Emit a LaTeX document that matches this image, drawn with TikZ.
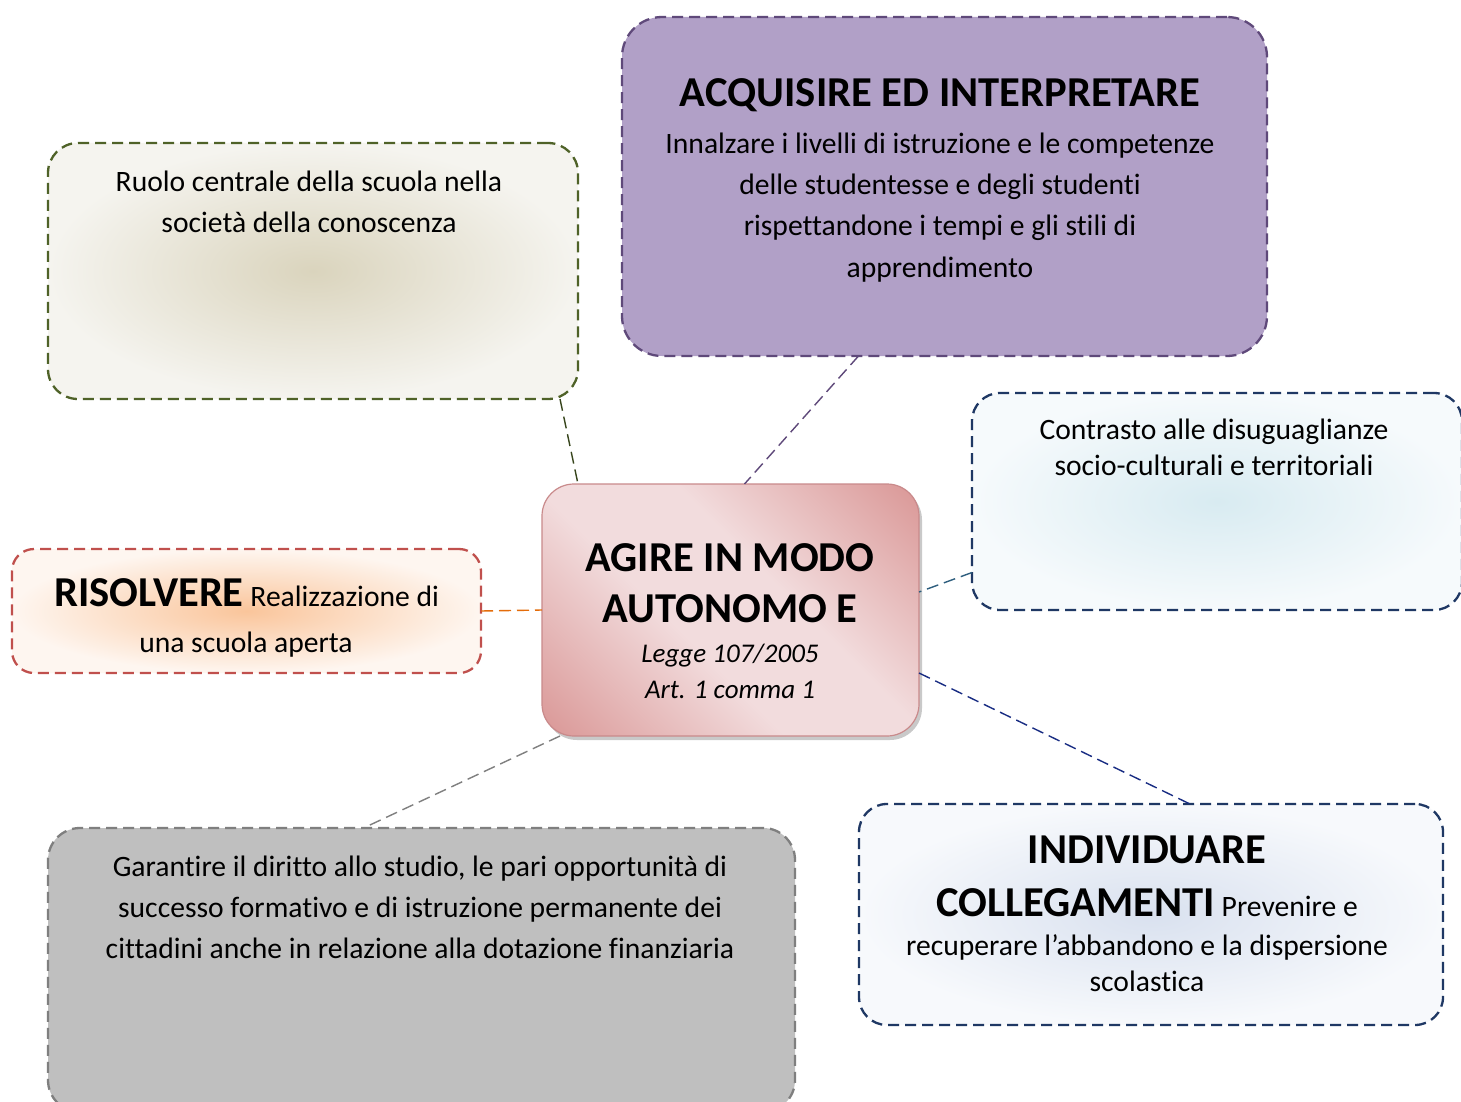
\documentclass[tikz,border=0pt]{standalone}
\usepackage{fontspec}
\setmainfont{Carlito}[Ligatures=NoCommon]
\usetikzlibrary{shadows,calc}
\definecolor{olivebd}{HTML}{4F6228}
\definecolor{tlout}{HTML}{F5F4EF}
\definecolor{tlin}{HTML}{DAD4BD}
\definecolor{purfill}{HTML}{B1A0C7}
\definecolor{purbd}{HTML}{5F497A}
\definecolor{navybd}{HTML}{1F3864}
\definecolor{conout}{HTML}{F6FAFC}
\definecolor{conin}{HTML}{D8EBF1}
\definecolor{redbd}{HTML}{C0504D}
\definecolor{risout}{HTML}{FEF6F0}
\definecolor{risin}{HTML}{FAC59B}
\definecolor{pkdark}{HTML}{D99594}
\definecolor{pklight}{HTML}{F2DCDD}
\definecolor{cenbd}{HTML}{C98A8B}
\definecolor{indout}{HTML}{F7F9FC}
\definecolor{indin}{HTML}{D9E1EF}
\definecolor{grayfill}{HTML}{BFBFBF}
\definecolor{graybd}{HTML}{7F7F7F}
\definecolor{orangeln}{HTML}{E46C0A}
\definecolor{tealln}{HTML}{2E5E7E}
\pgfdeclareverticalshading{pinkdiag}{100bp}{color(0bp)=(pkdark); color(14bp)=(pkdark); color(42bp)=(pklight); color(58bp)=(pklight); color(86bp)=(pkdark); color(100bp)=(pkdark)}
\begin{document}
\begin{tikzpicture}[x=1pt,y=-1pt,
  box/.style={rectangle, draw, line width=2.3pt, dash pattern=on 11pt off 6pt, outer sep=0pt, inner sep=0pt},
  link/.style={line width=1.4pt, dash pattern=on 12pt off 6pt},
  body/.style={font=\fontsize{29.6}{35}\selectfont, anchor=base, inner sep=0pt},
  ttl/.style={font=\fontsize{42.6}{50}\selectfont\bfseries, anchor=base, inner sep=0pt},
  legge/.style={font=\fontsize{27}{32}\selectfont\itshape, anchor=base, inner sep=0pt}]
\useasboundingbox (0,0) rectangle (1461,1102);
\fill[white] (0,0) rectangle (1461,1102);

% boxes
\node[box, draw=olivebd, inner color=tlin, outer color=tlout, rounded corners=30pt,
  minimum width=530pt, minimum height=256pt] (nTL) at (313,271) {};
\node[box, draw=purbd, fill=purfill, rounded corners=40pt,
  minimum width=645pt, minimum height=339pt] (nACQ) at (944.5,186.5) {};
\node[box, draw=navybd, inner color=conin, outer color=conout, rounded corners=28pt,
  minimum width=490pt, minimum height=217pt] (nCON) at (1217,501.5) {};
\node[box, draw=redbd, inner color=risin, outer color=risout, rounded corners=22pt,
  minimum width=469pt, minimum height=124pt] (nRIS) at (246.5,611) {};
\node[box, draw=navybd, inner color=indin, outer color=indout, rounded corners=28pt,
  minimum width=584pt, minimum height=221pt] (nIND) at (1151,914.5) {};
\node[box, draw=graybd, fill=grayfill, rounded corners=32pt,
  minimum width=747pt, minimum height=284pt] (nGAR) at (421.5,970) {};
\node[rectangle, draw=cenbd, line width=1.2pt, shading=pinkdiag, shading angle=-45,
  rounded corners=32pt, minimum width=377pt, minimum height=252pt, outer sep=0pt,
  drop shadow={shadow xshift=3pt, shadow yshift=-4pt, fill=black!35, opacity=0.6}] (nCEN) at (730.5,610) {};

% connectors
\draw[link, draw=olivebd!70!black] ([xshift=-18pt]nTL.south east) -- ([xshift=36pt]nCEN.north west);
\draw[link, draw=purbd] ([xshift=-86pt]nACQ.south) -- ([xshift=14pt]nCEN.north);
\draw[link, draw=tealln] ([yshift=-71pt]nCON.west) -- ([yshift=18pt]nCEN.east);
\draw[link, draw=orangeln] (nRIS.east) -- (nCEN.west);
\draw[link, draw=navybd!80!blue] ([yshift=-63pt]nCEN.east) -- ([xshift=39pt]nIND.north);
\draw[link, draw=graybd] ([xshift=18pt]nCEN.south west) -- ([xshift=-58pt]nGAR.north);

% texts
\node[body] (tTL1) at (309,191.5) {Ruolo centrale della scuola nella};
\node[body] (tTL2) at (309,232.5) {società della conoscenza};

\node[ttl] (tACQ0) at (940,106.5) {ACQUISIRE ED INTERPRETARE};
\node[body] (tACQ1) at (940,153.5) {Innalzare i livelli di istruzione e le competenze};
\node[body] (tACQ2) at (940,194.5) {delle studentesse e degli studenti};
\node[body] (tACQ3) at (940,235.5) {rispettandone i tempi e gli stili di};
\node[body] (tACQ4) at (940,277.5) {apprendimento};

\node[body] (tCON1) at (1214,439.5) {Contrasto alle disuguaglianze};
\node[body] (tCON2) at (1214,475.5) {socio-culturali e territoriali};

\node[body] (tRIS1) at (246.5,606.5) {{\fontsize{42.6}{50}\selectfont\bfseries RISOLVERE} Realizzazione di};
\node[body] (tRIS2) at (246,652.5) {una scuola aperta};

\node[ttl] (tCEN1) at (730,571.5) {AGIRE IN MODO};
\node[ttl] (tCEN2) at (730,622.5) {AUTONOMO E};
\node[legge] (tCEN3) at (730,662.5) {Legge 107/2005};
\node[legge] (tCEN4) at (730,698.5) {Art. 1 comma 1};

\node[ttl] (tIND1) at (1147,863.5) {INDIVIDUARE};
\node[body] (tIND2) at (1147,916.5) {{\fontsize{42.6}{50}\selectfont\bfseries COLLEGAMENTI} Prevenire e};
\node[body] (tIND3) at (1147,955.5) {recuperare l’abbandono e la dispersione};
\node[body] (tIND4) at (1147,991.5) {scolastica};

\node[body] (tGAR1) at (420,876.5) {Garantire il diritto allo studio, le pari opportunità di};
\node[body] (tGAR2) at (420,917.5) {successo formativo e di istruzione permanente dei};
\node[body] (tGAR3) at (420,958.5) {cittadini anche in relazione alla dotazione finanziaria};
\end{tikzpicture}
\end{document}
